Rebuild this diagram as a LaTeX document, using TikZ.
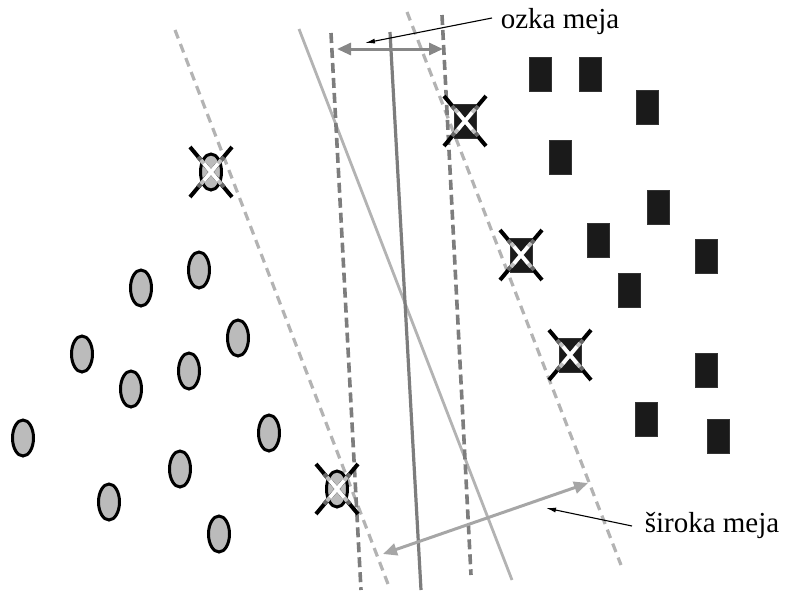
\documentclass[tikz,border=0pt]{standalone}
\usepackage{fontspec}
\setmainfont{Liberation Serif}
\usetikzlibrary{shapes.geometric,arrows.meta}

\definecolor{lightline}{HTML}{B3B3B3}
\definecolor{darkline}{HTML}{7D7D7D}
\definecolor{dotfill}{HTML}{BBBBBB}
\definecolor{boxfill}{HTML}{1A1A1A}

\tikzset{
  circclass/.style={ellipse, draw=black, line width=3pt, fill=dotfill,
    minimum width=21pt, minimum height=36pt, inner sep=0pt},
  boxclass/.style={rectangle, draw=black!80, line width=1pt, fill=boxfill,
    minimum width=22pt, minimum height=34pt, inner sep=0pt},
  widedash/.style={lightline, line width=3.2pt, dash pattern=on 9pt off 6pt},
  narrowdash/.style={darkline, line width=3.6pt, dash pattern=on 10pt off 5pt},
  narrowsolid/.style={darkline, line width=3.2pt},
  widesolid/.style={lightline, line width=2.8pt},
  marginarrow/.style={line width=3pt, {Triangle[length=14pt,width=12pt]}-{Triangle[length=14pt,width=12pt]}},
  pointer/.style={black, line width=1.1pt, -{Latex[length=10pt,width=5pt]}},
  caption/.style={font=\fontsize{29}{34}\selectfont, inner sep=0pt, anchor=base},
  xmark/.pic={
    \draw[black, line width=4pt] (-21,-25) -- (21,25) (-21,25) -- (21,-25);
    \draw[black!60, line width=4pt] (-13,-15) -- (13,15) (-13,15) -- (13,-15);
    \draw[black!25, line width=3.8pt] (-10,-12) -- (10,12) (-10,12) -- (10,-12);
    \draw[white, line width=3.5pt] (-7,-8.5) -- (7,8.5) (-7,8.5) -- (7,-8.5);
  }
}

\begin{document}
\begin{tikzpicture}[x=1pt, y=-1pt]
\useasboundingbox (0,0) rectangle (785,590);

% end points of the separating lines
\coordinate (wl1) at (175,30);  \coordinate (wl2) at (388,584);
\coordinate (wr1) at (407,12);  \coordinate (wr2) at (621,565);
\coordinate (nl1) at (331,33);  \coordinate (nl2) at (361,590);
\coordinate (nr1) at (442,15);  \coordinate (nr2) at (471,575);
\coordinate (ns1) at (390,32);  \coordinate (ns2) at (421,590);
\coordinate (ws1) at (299,29);  \coordinate (ws2) at (512,580);

% wide-margin hyperplane (light) and its margins
\draw[widedash] (wl1) -- (wl2);
\draw[widedash] (wr1) -- (wr2);
\draw[widesolid] (ws1) -- (ws2);
% narrow-margin hyperplane (dark) and its margins
\draw[narrowdash] (nl1) -- (nl2);
\draw[narrowdash] (nr1) -- (nr2);
\draw[narrowsolid] (ns1) -- (ns2);

% class 1: ellipses
\foreach \n/\px/\py in {e1/141/288, e2/199/270, e3/82/354, e4/131/389,
    e5/189/371, e6/238/338, e7/23/438, e8/269/433, e9/180/469,
    e10/109/502, e11/219/534, e12/211/172, e13/337/489}
  \node[circclass] (\n) at (\px,\py) {};

% class 2: rectangles
\foreach \n/\px/\py in {r1/540/74, r2/590/74, r3/647/107, r4/560/157,
    r5/658/207, r6/598/240, r7/706/256, r8/629/290, r9/706/370,
    r10/646/419, r11/718/436, r12/465/121, r13/521/255, r14/570/355}
  \node[boxclass] (\n) at (\px,\py) {};

% support vectors
\foreach \n in {e12, e13, r12, r13, r14}
  \pic at (\n) {xmark};

% margin widths
\coordinate (na) at (337,49);  \coordinate (nb) at (443,49);
\draw[marginarrow, color=black!47] (na) -- (nb);
\coordinate (wa) at (383,554); \coordinate (wb) at (588,483);
\draw[marginarrow, color=black!35] (wa) -- (wb);

% captions with pointers
\node[caption] (ozka) at (560,28) {ozka meja};
\node[caption] (siroka) at (712,532) {široka meja};
\coordinate (ozkafrom) at (492,18);
\coordinate (ozkatip) at (365,43);
\coordinate (sirokafrom) at (632,526);
\coordinate (sirokatip) at (546,508);
\draw[pointer] (ozkafrom) -- (ozkatip);
\draw[pointer] (sirokafrom) -- (sirokatip);
\end{tikzpicture}
\end{document}
